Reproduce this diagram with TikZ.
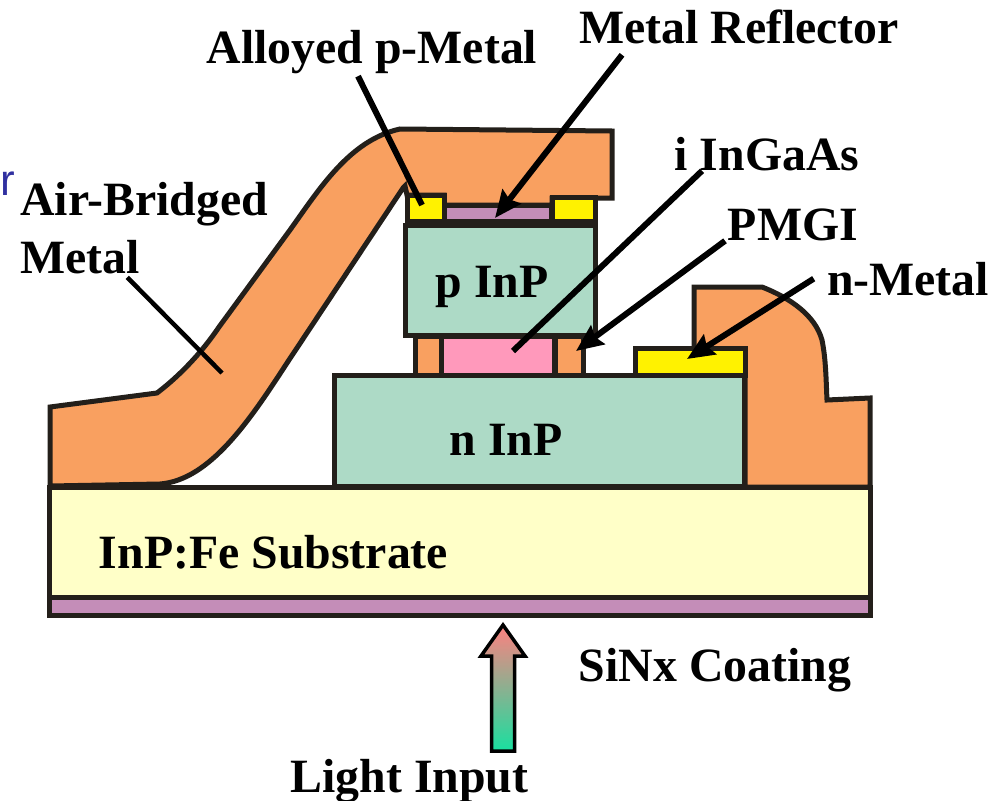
\documentclass[tikz,border=0pt]{standalone}
\usepackage{fontspec}
\setmainfont{Liberation Serif}
\setsansfont{Liberation Sans}
\usetikzlibrary{arrows.meta}
\definecolor{edgedark}{HTML}{231F1A}
\definecolor{metalorange}{HTML}{F9A060}
\definecolor{inpgreen}{HTML}{ADDAC6}
\definecolor{subyellow}{HTML}{FFFFC8}
\definecolor{coatpurple}{HTML}{C48DB8}
\definecolor{ingaaspink}{HTML}{FF99BB}
\definecolor{straypblue}{HTML}{3030A0}
\definecolor{lighttop}{HTML}{FF8080}
\definecolor{lightbottom}{HTML}{18E0A0}

\begin{document}
\begin{tikzpicture}[
  x=0.02cm, y=-0.02cm,
  layer/.style={rectangle, draw=edgedark, line width=0.1cm, inner sep=0pt, outer sep=0pt},
  metal/.style={draw=edgedark, fill=metalorange, line width=0.1cm, line join=miter},
  lbl/.style={anchor=base, inner sep=0pt, font=\bfseries\fontsize{27.2}{33}\selectfont},
  leader/.style={-, line width=0.12cm, black},
  arw/.style={-{Stealth[length=0.54cm, width=0.46cm, inset=0.07cm]}, line width=0.12cm, black}
  ]

\useasboundingbox (0,0) rectangle (1001,801);

% air bridge and n contact metal

\draw [metal] (50,407) -- (157,393) .. controls (178,377) and (200,355) .. (219,327)
  -- (290,230) .. controls (320,188) and (350,140) .. (400,129) -- (612,131) -- (612,198)
  -- (552,198) -- (552,205) -- (444,205) -- (444,195) -- (407,195) -- (405,186) -- (403,188)
  -- (287,363) .. controls (250,420) and (210,480) .. (160,484) -- (50,486) -- cycle;
\draw [metal] (745,487) -- (745,350) -- (694,350) -- (694,287) -- (762,287)
  .. controls (790,298) and (815,315) .. (822,340)
  .. controls (826,360) and (826,380) .. (827,400) -- (870,398) -- (870,487) -- cycle;

% layers

\node [layer, fill=subyellow, minimum width=16.41cm, minimum height=2.21cm] (substrate) at (460,542.25) {};
\node [layer, fill=coatpurple, minimum width=16.41cm, minimum height=0.35cm] (coating) at (460,606.25) {};
\node [layer, fill=inpgreen, minimum width=8.22cm, minimum height=2.24cm] (ninp) at (539.5,431) {};
\node [layer, fill=metalorange, minimum width=0.52cm, minimum height=0.78cm] (pmgil) at (428,355.5) {};
\node [layer, fill=ingaaspink, minimum width=2.28cm, minimum height=0.78cm] (ingaas) at (498,355.5) {};
\node [layer, fill=metalorange, minimum width=0.56cm, minimum height=0.78cm] (pmgir) at (569,355.5) {};
\node [layer, fill=inpgreen, minimum width=3.8cm, minimum height=2.22cm] (pinp) at (500.5,280.5) {};
\node [layer, fill=coatpurple, minimum width=2.16cm, minimum height=0.32cm] (reflector) at (498,213) {};
\node [layer, fill=yellow, minimum width=0.74cm, minimum height=0.52cm] (pmetall) at (425.5,208) {};
\node [layer, fill=yellow, minimum width=0.86cm, minimum height=0.48cm] (pmetalr) at (573.5,209) {};
\node [layer, fill=yellow, minimum width=2.22cm, minimum height=0.53cm] (nmetal) at (690.5,361.75) {};

% light input arrow

\draw [black, line width=0.07cm, top color=lighttop, bottom color=lightbottom, shade]
  (491.5,751) -- (491.5,656) -- (481,656) -- (503,625) -- (525,656) -- (514.5,656) -- (514.5,751) -- cycle;

% labels

\node [lbl] (alloyedlbl) at (372,63) {Alloyed p-Metal};
\node [lbl] (reflectorlbl) at (739,43) {Metal Reflector};
\node [lbl] (ingaaslbl) at (767,170) {i InGaAs};
\node [lbl] (pmgilbl) at (793,240) {PMGI};
\node [lbl] (nmetallbl) at (908,295) {n-Metal};
\node [lbl, anchor=north west, align=left] (bridgelbl) at (20,182) {Air-Bridged\\Metal};
\node [lbl] (pinplbl) at (492,297) {p InP};
\node [lbl] (ninplbl) at (506,455) {n InP};
\node [lbl] (substratelbl) at (273.5,568) {InP:Fe Substrate};
\node [lbl] (coatinglbl) at (715,681) {SiNx Coating};
\node [lbl] (lightlbl) at (409.5,792) {Light Input};
\node [anchor=base west, inner sep=0pt, text=straypblue, font=\sffamily\fontsize{25}{30}\selectfont] (straylbl) at (0,195) {r};

% leaders

\coordinate (alloyedtip) at (422,205);
\coordinate (reflectortip) at (495,218);
\coordinate (ingaastip) at (513,351);
\coordinate (pmgitip) at (576,351);
\coordinate (nmetaltip) at (687,359);
\coordinate (bridgetip) at (222,373);

\draw [leader] ([xshift=-0.28cm, yshift=-0.05cm]alloyedlbl.south) -- (alloyedtip);
\draw [arw] ([xshift=-2.34cm, yshift=-0.22cm]reflectorlbl.south) -- (reflectortip);
\draw [leader] ([xshift=-1.3cm]ingaaslbl.south) -- (ingaastip);
\draw [arw] ([xshift=-1.36cm]pmgilbl.south) -- (pmgitip);
\draw [arw] ([xshift=-0.26cm]nmetallbl.west) -- (nmetaltip);
\draw [leader, line width=0.09cm] ([xshift=-0.34cm, yshift=-0.06cm]bridgelbl.south) -- (bridgetip);

\end{tikzpicture}
\end{document}
